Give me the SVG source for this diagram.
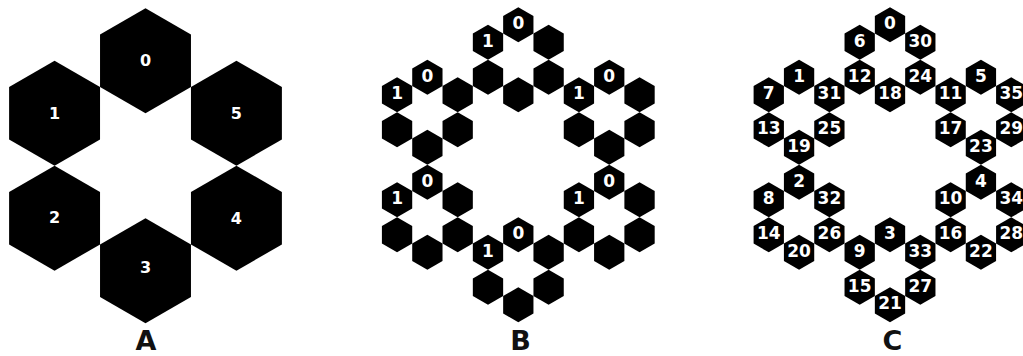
<svg xmlns="http://www.w3.org/2000/svg" xmlns:xlink="http://www.w3.org/1999/xlink" width="1023" height="356" viewBox="0 0 1023 356">
<style>
.hex{fill:#000}
.lbl{fill:#fff;font-family:"DejaVu Sans","Liberation Sans",sans-serif;font-weight:bold;font-size:17px;text-anchor:middle}
.lblA{fill:#fff;font-family:"DejaVu Sans","Liberation Sans",sans-serif;font-weight:bold;font-size:16px;text-anchor:middle}
.cap{fill:#111;font-family:"DejaVu Sans","Liberation Sans",sans-serif;font-weight:bold;font-size:27px;text-anchor:middle}
</style>
<defs>
<polygon id="hL" class="hex" points="0,-52.5 45.466,-26.25 45.466,26.25 0,52.5 -45.466,26.25 -45.466,-26.25"/>
<polygon id="hS" class="hex" points="0,-17.5 15.155,-8.75 15.155,8.75 0,17.5 -15.155,8.75 -15.155,-8.75"/>
</defs>
<rect width="1023" height="356" fill="#fff"/>

<!-- A -->
<g id="A">
<g id="A0" transform="translate(145.5,60.7)"><use href="#hL"/><text class="lblA" x="0" y="5.3">0</text></g>
<g id="A1" transform="translate(54.57,113.2)"><use href="#hL"/><text class="lblA" x="0" y="5.8">1</text></g>
<g id="A2" transform="translate(54.57,218.2)"><use href="#hL"/><text class="lblA" x="0" y="4.3">2</text></g>
<g id="A3" transform="translate(145.5,270.7)"><use href="#hL"/><text class="lblA" x="0" y="2.6">3</text></g>
<g id="A4" transform="translate(236.43,218.2)"><use href="#hL"/><text class="lblA" x="0" y="5.3">4</text></g>
<g id="A5" transform="translate(236.43,113.2)"><use href="#hL"/><text class="lblA" x="0" y="5.8">5</text></g>
</g>
<text class="cap" x="146" y="349.5">A</text>

<!-- B -->
<g id="B">
<g id="B_r0" transform="translate(518.3,59.8)">
<g id="B0_0" transform="translate(0,-35)"><use href="#hS"/><text class="lbl" y="4.6">0</text></g>
<g id="B0_1" transform="translate(-30.31,-17.5)"><use href="#hS"/><text class="lbl" y="4.6">1</text></g>
<g id="B0_2" transform="translate(-30.31,17.5)"><use href="#hS"/></g>
<g id="B0_3" transform="translate(0,35)"><use href="#hS"/></g>
<g id="B0_4" transform="translate(30.31,17.5)"><use href="#hS"/></g>
<g id="B0_5" transform="translate(30.31,-17.5)"><use href="#hS"/></g>
</g>
<g id="B_r1" transform="translate(427.37,112.3)">
<g id="B1_0" transform="translate(0,-35)"><use href="#hS"/><text class="lbl" y="4.6">0</text></g>
<g id="B1_1" transform="translate(-30.31,-17.5)"><use href="#hS"/><text class="lbl" y="4.6">1</text></g>
<g id="B1_2" transform="translate(-30.31,17.5)"><use href="#hS"/></g>
<g id="B1_3" transform="translate(0,35)"><use href="#hS"/></g>
<g id="B1_4" transform="translate(30.31,17.5)"><use href="#hS"/></g>
<g id="B1_5" transform="translate(30.31,-17.5)"><use href="#hS"/></g>
</g>
<g id="B_r2" transform="translate(427.37,217.3)">
<g id="B2_0" transform="translate(0,-35)"><use href="#hS"/><text class="lbl" y="4.6">0</text></g>
<g id="B2_1" transform="translate(-30.31,-17.5)"><use href="#hS"/><text class="lbl" y="4.6">1</text></g>
<g id="B2_2" transform="translate(-30.31,17.5)"><use href="#hS"/></g>
<g id="B2_3" transform="translate(0,35)"><use href="#hS"/></g>
<g id="B2_4" transform="translate(30.31,17.5)"><use href="#hS"/></g>
<g id="B2_5" transform="translate(30.31,-17.5)"><use href="#hS"/></g>
</g>
<g id="B_r3" transform="translate(518.3,269.8)">
<g id="B3_0" transform="translate(0,-35)"><use href="#hS"/><text class="lbl" y="4.6">0</text></g>
<g id="B3_1" transform="translate(-30.31,-17.5)"><use href="#hS"/><text class="lbl" y="4.6">1</text></g>
<g id="B3_2" transform="translate(-30.31,17.5)"><use href="#hS"/></g>
<g id="B3_3" transform="translate(0,35)"><use href="#hS"/></g>
<g id="B3_4" transform="translate(30.31,17.5)"><use href="#hS"/></g>
<g id="B3_5" transform="translate(30.31,-17.5)"><use href="#hS"/></g>
</g>
<g id="B_r4" transform="translate(609.23,217.3)">
<g id="B4_0" transform="translate(0,-35)"><use href="#hS"/><text class="lbl" y="4.6">0</text></g>
<g id="B4_1" transform="translate(-30.31,-17.5)"><use href="#hS"/><text class="lbl" y="4.6">1</text></g>
<g id="B4_2" transform="translate(-30.31,17.5)"><use href="#hS"/></g>
<g id="B4_3" transform="translate(0,35)"><use href="#hS"/></g>
<g id="B4_4" transform="translate(30.31,17.5)"><use href="#hS"/></g>
<g id="B4_5" transform="translate(30.31,-17.5)"><use href="#hS"/></g>
</g>
<g id="B_r5" transform="translate(609.23,112.3)">
<g id="B5_0" transform="translate(0,-35)"><use href="#hS"/><text class="lbl" y="4.6">0</text></g>
<g id="B5_1" transform="translate(-30.31,-17.5)"><use href="#hS"/><text class="lbl" y="4.6">1</text></g>
<g id="B5_2" transform="translate(-30.31,17.5)"><use href="#hS"/></g>
<g id="B5_3" transform="translate(0,35)"><use href="#hS"/></g>
<g id="B5_4" transform="translate(30.31,17.5)"><use href="#hS"/></g>
<g id="B5_5" transform="translate(30.31,-17.5)"><use href="#hS"/></g>
</g>
</g>
<text class="cap" x="520.5" y="349.5">B</text>

<!-- C -->
<g id="C">
<g id="C_r0" transform="translate(890,59.8)">
<g id="C0" transform="translate(0,-35)"><use href="#hS"/><text class="lbl" y="4.6">0</text></g>
<g id="C6" transform="translate(-30.31,-17.5)"><use href="#hS"/><text class="lbl" y="4.6">6</text></g>
<g id="C12" transform="translate(-30.31,17.5)"><use href="#hS"/><text class="lbl" y="4.6">12</text></g>
<g id="C18" transform="translate(0,35)"><use href="#hS"/><text class="lbl" y="4.6">18</text></g>
<g id="C24" transform="translate(30.31,17.5)"><use href="#hS"/><text class="lbl" y="4.6">24</text></g>
<g id="C30" transform="translate(30.31,-17.5)"><use href="#hS"/><text class="lbl" y="4.6">30</text></g>
</g>
<g id="C_r1" transform="translate(799.07,112.3)">
<g id="C1" transform="translate(0,-35)"><use href="#hS"/><text class="lbl" y="4.6">1</text></g>
<g id="C7" transform="translate(-30.31,-17.5)"><use href="#hS"/><text class="lbl" y="4.6">7</text></g>
<g id="C13" transform="translate(-30.31,17.5)"><use href="#hS"/><text class="lbl" y="4.6">13</text></g>
<g id="C19" transform="translate(0,35)"><use href="#hS"/><text class="lbl" y="4.6">19</text></g>
<g id="C25" transform="translate(30.31,17.5)"><use href="#hS"/><text class="lbl" y="4.6">25</text></g>
<g id="C31" transform="translate(30.31,-17.5)"><use href="#hS"/><text class="lbl" y="4.6">31</text></g>
</g>
<g id="C_r2" transform="translate(799.07,217.3)">
<g id="C2" transform="translate(0,-35)"><use href="#hS"/><text class="lbl" y="4.6">2</text></g>
<g id="C8" transform="translate(-30.31,-17.5)"><use href="#hS"/><text class="lbl" y="4.6">8</text></g>
<g id="C14" transform="translate(-30.31,17.5)"><use href="#hS"/><text class="lbl" y="4.6">14</text></g>
<g id="C20" transform="translate(0,35)"><use href="#hS"/><text class="lbl" y="4.6">20</text></g>
<g id="C26" transform="translate(30.31,17.5)"><use href="#hS"/><text class="lbl" y="4.6">26</text></g>
<g id="C32" transform="translate(30.31,-17.5)"><use href="#hS"/><text class="lbl" y="4.6">32</text></g>
</g>
<g id="C_r3" transform="translate(890,269.8)">
<g id="C3" transform="translate(0,-35)"><use href="#hS"/><text class="lbl" y="4.6">3</text></g>
<g id="C9" transform="translate(-30.31,-17.5)"><use href="#hS"/><text class="lbl" y="4.6">9</text></g>
<g id="C15" transform="translate(-30.31,17.5)"><use href="#hS"/><text class="lbl" y="4.6">15</text></g>
<g id="C21" transform="translate(0,35)"><use href="#hS"/><text class="lbl" y="4.6">21</text></g>
<g id="C27" transform="translate(30.31,17.5)"><use href="#hS"/><text class="lbl" y="4.6">27</text></g>
<g id="C33" transform="translate(30.31,-17.5)"><use href="#hS"/><text class="lbl" y="4.6">33</text></g>
</g>
<g id="C_r4" transform="translate(980.93,217.3)">
<g id="C4" transform="translate(0,-35)"><use href="#hS"/><text class="lbl" y="4.6">4</text></g>
<g id="C10" transform="translate(-30.31,-17.5)"><use href="#hS"/><text class="lbl" y="4.6">10</text></g>
<g id="C16" transform="translate(-30.31,17.5)"><use href="#hS"/><text class="lbl" y="4.6">16</text></g>
<g id="C22" transform="translate(0,35)"><use href="#hS"/><text class="lbl" y="4.6">22</text></g>
<g id="C28" transform="translate(30.31,17.5)"><use href="#hS"/><text class="lbl" y="4.6">28</text></g>
<g id="C34" transform="translate(30.31,-17.5)"><use href="#hS"/><text class="lbl" y="4.6">34</text></g>
</g>
<g id="C_r5" transform="translate(980.93,112.3)">
<g id="C5" transform="translate(0,-35)"><use href="#hS"/><text class="lbl" y="4.6">5</text></g>
<g id="C11" transform="translate(-30.31,-17.5)"><use href="#hS"/><text class="lbl" y="4.6">11</text></g>
<g id="C17" transform="translate(-30.31,17.5)"><use href="#hS"/><text class="lbl" y="4.6">17</text></g>
<g id="C23" transform="translate(0,35)"><use href="#hS"/><text class="lbl" y="4.6">23</text></g>
<g id="C29" transform="translate(30.31,17.5)"><use href="#hS"/><text class="lbl" y="4.6">29</text></g>
<g id="C35" transform="translate(30.31,-17.5)"><use href="#hS"/><text class="lbl" y="4.6">35</text></g>
</g>
</g>
<text class="cap" x="892.5" y="349.5">C</text>
</svg>
